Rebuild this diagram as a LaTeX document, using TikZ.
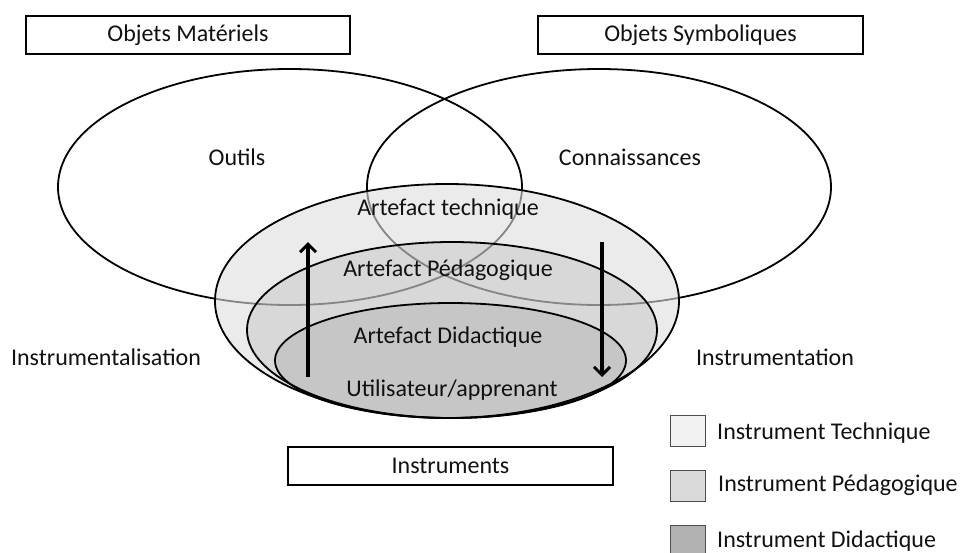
\documentclass[tikz,border=0pt]{standalone}
\usepackage{fontspec}
\setmainfont{Carlito}
\usetikzlibrary{shapes.geometric,arrows.meta}
\definecolor{techfill}{HTML}{EBEBEB}
\definecolor{pedafill}{HTML}{D8D8D8}
\definecolor{didafill}{HTML}{C6C6C6}
\definecolor{legtech}{HTML}{F2F2F2}
\definecolor{legpeda}{HTML}{DADADA}
\definecolor{legdida}{HTML}{B2B2B2}
\definecolor{txt}{HTML}{111111}
\begin{document}
\begin{tikzpicture}[x=1pt,y=-1pt,
  lbl/.style={font=\fontsize{24}{28}\selectfont, inner sep=0pt, text=txt},
  titlebox/.style={draw, line width=1.8pt, minimum height=38pt, inner sep=0pt,
    font=\fontsize{24}{28}\selectfont, text=txt},
  bigell/.style={draw, ellipse, line width=1.8pt, inner sep=0pt},
  legbox/.style={draw=black!70, line width=1pt, minimum width=35pt, minimum height=31pt, inner sep=0pt},
  flowarrow/.style={line width=3.4pt, -{Straight Barb[length=8pt,width=16pt,line width=3pt]}}
]
\useasboundingbox (0,0) rectangle (963,552);

% title boxes
\node[titlebox, minimum width=324pt] (mat) at (188,35) {Objets Matériels};
\node[titlebox, minimum width=325pt] (sym) at (700.5,35) {Objets Symboliques};
\node[titlebox, minimum width=325pt] (instr) at (450.5,466) {Instruments};

% Outils / Connaissances ellipses (black outline)
\node[bigell, minimum width=464pt, minimum height=236pt] (outils) at (290,187) {};
\node[bigell, minimum width=464pt, minimum height=236pt] (conn) at (599,187) {};

% nested fills
\node[ellipse, fill=techfill, minimum width=464pt, minimum height=234pt, inner sep=0pt] (techF) at (447,301) {};
\node[ellipse, fill=pedafill, minimum width=410pt, minimum height=176pt, inner sep=0pt] (pedaF) at (452,330) {};
\node[ellipse, fill=didafill, minimum width=351pt, minimum height=115pt, inner sep=0pt] (didaF) at (450.5,360.5) {};

% grey parts of Outils / Connaissances lines seen through the fills
\begin{scope}
  \clip (447,301) ellipse [x radius=232pt, y radius=117pt];
  \draw[line width=1.8pt, black!48] (290,187) ellipse [x radius=232pt, y radius=118pt];
  \draw[line width=1.8pt, black!48] (599,187) ellipse [x radius=232pt, y radius=118pt];
\end{scope}

% nested outlines
\node[bigell, minimum width=464pt, minimum height=234pt] (tech) at (447,301) {};
\node[bigell, minimum width=410pt, minimum height=176pt] (peda) at (452,330) {};
\node[bigell, minimum width=351pt, minimum height=115pt] (dida) at (450.5,360.5) {};

% labels
\node[lbl] (lout) at (237,157) {Outils};
\node[lbl] (lcon) at (630,157) {Connaissances};
\node[lbl] (ltech) at (448,209) {Artefact technique};
\node[lbl] (lpeda) at (448,270) {Artefact Pédagogique};
\node[lbl] (ldida) at (448,337) {Artefact Didactique};
\node[lbl] (luser) at (452,390) {Utilisateur/apprenant};
\node[lbl] (linstz) at (106,357) {Instrumentalisation};
\node[lbl] (linstn) at (775,357) {Instrumentation};

% arrows
\coordinate (upS) at (308,377);
\coordinate (upE) at (308,242);
\coordinate (dnS) at (602,242);
\coordinate (dnE) at (602,377);
\draw[flowarrow] (upS) -- (upE);
\draw[flowarrow] (dnS) -- (dnE);

% legend
\node[legbox, fill=legtech] (k1) at (687.5,430.5) {};
\node[legbox, fill=legpeda] (k2) at (687.5,486) {};
\node[legbox, fill=legdida] (k3) at (687.5,541) {};
\node[lbl, anchor=west] (t1) at (717,433) {Instrument Technique};
\node[lbl, anchor=west] (t2) at (718,485) {Instrument Pédagogique};
\node[lbl, anchor=west] (t3) at (717,541) {Instrument Didactique};
\end{tikzpicture}
\end{document}
